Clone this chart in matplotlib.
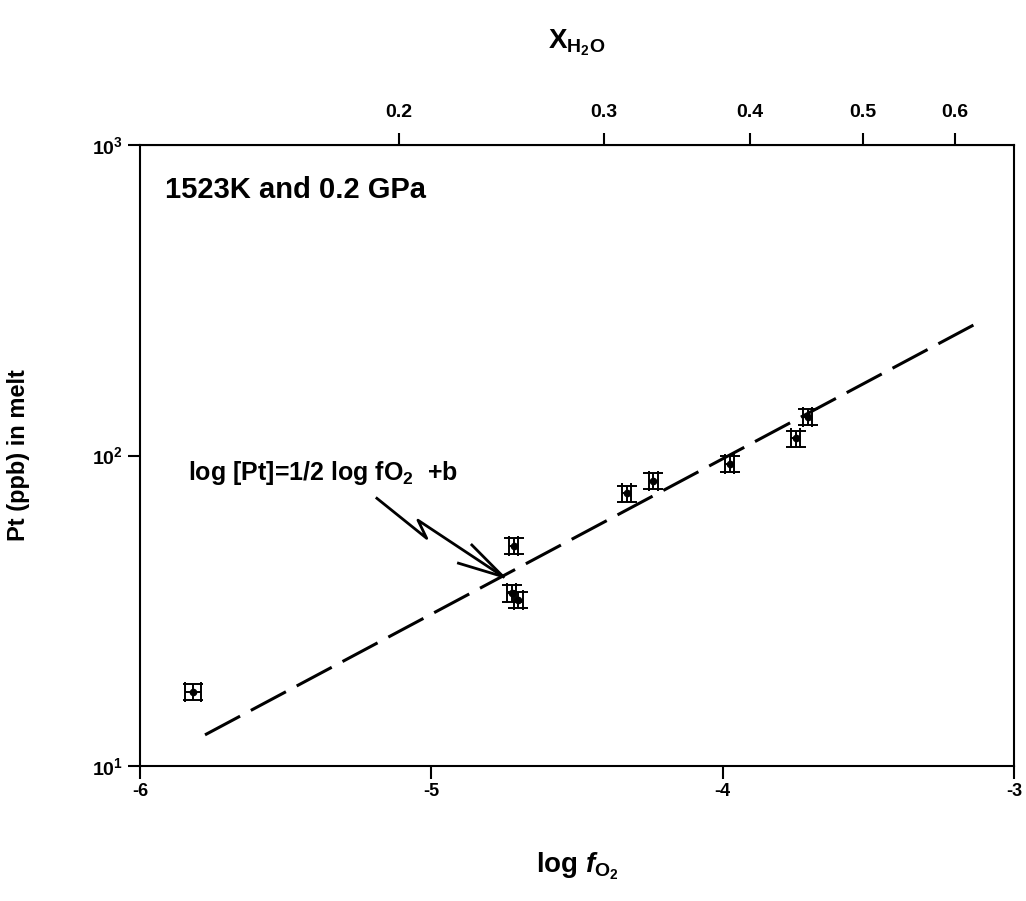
import numpy as np
import matplotlib
matplotlib.use("Agg")
import matplotlib.pyplot as plt

plt.rcParams['font.family'] = ['Liberation Sans', 'DejaVu Sans']
plt.rcParams['font.weight'] = 'bold'
plt.rcParams['mathtext.fontset'] = 'custom'
plt.rcParams['mathtext.rm'] = 'Liberation Sans:bold'
plt.rcParams['mathtext.bf'] = 'Liberation Sans:bold'
plt.rcParams['mathtext.it'] = 'Liberation Sans:italic:bold'

# data
log_fo2 = [-5.817, -4.718, -4.724, -4.701, -4.329, -4.238, -3.976, -3.749, -3.708]
pt_ppb = [17.3, 51.3, 36.0, 34.3, 75.5, 83.0, 94.0, 113.5, 133.0]
x_err = [0.027, 0.016, 0.016, 0.016, 0.016, 0.016, 0.016, 0.016, 0.016]
y_err = [0.06 * v for v in pt_ppb]

# fitted line end points (slope 1/2)
fit_x = [-5.777, -3.123]
fit_y = [12.6, 268.0]

top_ticks = [0.2, 0.3, 0.4, 0.5, 0.6]

fig = plt.figure(figsize=(10.26, 9.01), dpi=100)
ax = fig.add_axes([0.1365, 0.1498, 0.8518, 0.6893])

ax.plot(fit_x, fit_y, color='black', lw=2.2, linestyle=(0, (13, 4)))
ax.errorbar(log_fo2, pt_ppb, xerr=x_err, yerr=y_err, fmt='o', color='black',
            ms=4.5, elinewidth=1.4, capsize=7, capthick=1.4, zorder=3)

ax.set_yscale('log')
ax.set_xlim(-6, -3)
ax.set_ylim(10, 1000)
ax.set_xticks([-6, -5, -4, -3])
ax.set_xticklabels(['-6', '-5', '-4', '-3'], fontsize=13, fontweight='bold')
ax.set_yticks([10, 100, 1000])
ax.set_yticklabels([r'$\mathbf{10^1}$', r'$\mathbf{10^2}$', r'$\mathbf{10^3}$'], fontsize=14)
ax.yaxis.set_minor_locator(matplotlib.ticker.NullLocator())
ax.tick_params(direction='out', length=9, width=1.5, top=False, right=False)
for s in ax.spines.values():
    s.set_linewidth(1.5)

ax.set_xlabel(r'log $\mathit{f}_{\mathrm{O_2}}$', fontsize=20, fontweight='bold', labelpad=36)
ax.set_ylabel('Pt (ppb) in melt', fontsize=17, fontweight='bold', labelpad=44)

# top axis: water mole fraction
c = -2.315
sec = ax.secondary_xaxis('top', functions=(lambda x: 10 ** ((x - c) / 4),
                                           lambda X: 4 * np.log10(np.clip(X, 1e-9, None)) + c))
sec.set_xticks(top_ticks)
sec.set_xticklabels([str(t) for t in top_ticks], fontsize=14, fontweight='bold')
sec.xaxis.set_minor_locator(matplotlib.ticker.NullLocator())
sec.tick_params(direction='out', length=9, width=1.5, pad=8)
sec.set_xlabel(r'$\mathrm{X_{H_2O}}$', fontsize=20, labelpad=40)

ax.text(-5.914, 716, '1523K and 0.2 GPa', fontsize=21, fontweight='bold', va='center', ha='left')
ax.text(-5.835, 88, r'log [Pt]=1/2 log fO$_2$  +b', fontsize=18, fontweight='bold', va='center', ha='left')

# zig-zag arrow pointing to the fit line
arr_x = [-5.187, -5.016, -5.046, -4.753]
arr_y = [72.8, 54.1, 61.9, 40.7]
ax.plot(arr_x, arr_y, color='black', lw=2)
ax.plot([-4.861, -4.753, -4.907], [51.5, 40.7, 45.0], color='black', lw=2)

fig.savefig('out.png', dpi=100)
